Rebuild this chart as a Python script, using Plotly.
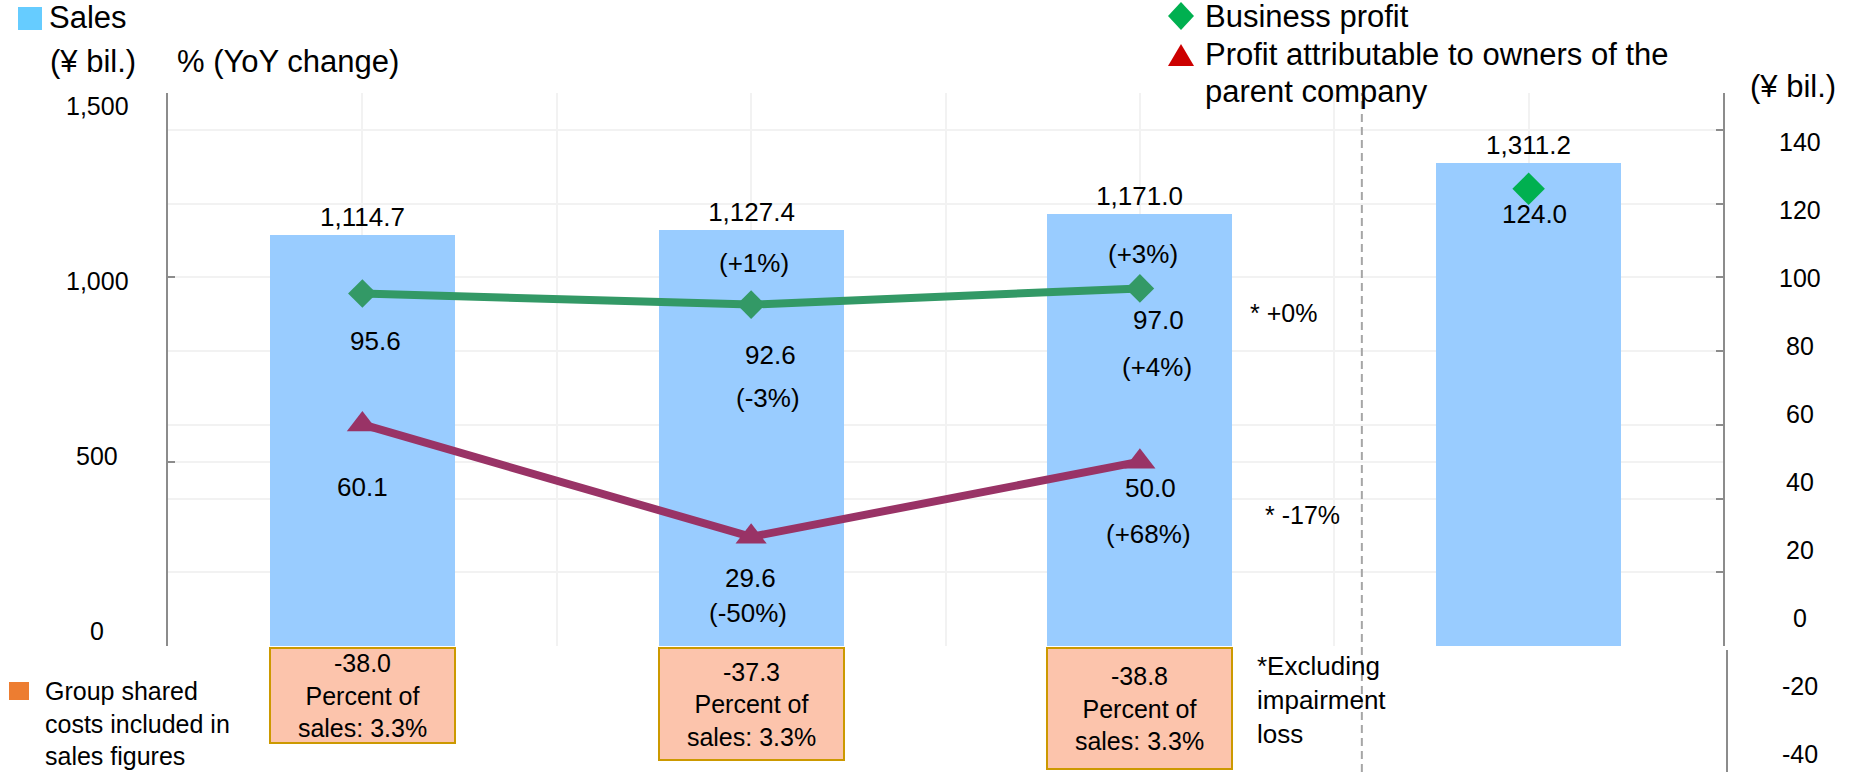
import plotly.graph_objects as go

# ---------------- data ----------------
sales = [1114.7, 1127.4, 1171.0, 1311.2]
sales_yoy = [None, "+1%", "+3%", None]
business_profit = [95.6, 92.6, 97.0]
business_profit_yoy = [None, "-3%", "+4%"]
business_profit_plan = 124.0
owners_profit = [60.1, 29.6, 50.0]
owners_profit_yoy = [None, "-50%", "+68%"]
excl_impairment_yoy = ["+0%", "-17%"]
group_costs = [-38.0, -37.3, -38.8]
group_costs_pct = [3.3, 3.3, 3.3]
left_ticks = [0, 500, 1000, 1500]
right_grid_ticks = [0, 20, 40, 60, 80, 100, 120, 140]
right_labels = [-40, -20, 0, 20, 40, 60, 80, 100, 120, 140]

# ---------------- layout geometry ----------------
W, H = 1856, 772
L, R, T, B = 168, 133, 93, 0
PW, PH = W - L - R, H - T - B
FONT = "Liberation Sans, Arial, sans-serif"
BLACK = "#000000"
AXIS = "#8C8C8C"
GRID = "#F2F2F2"


def pxx(x):
    return (x - L) / PW


def pxy(y):
    return (H - B - y) / PH


y_bottom = pxy(646)
pos = list(range(len(sales)))

fig = go.Figure()

# Sales bars
fig.add_trace(go.Bar(
    x=pos, y=sales, width=0.476, marker=dict(color="#99CCFF", line=dict(width=0)),
    text=[f"{v:,.1f}" for v in sales], texttemplate="%{text}", textposition="outside",
    textfont=dict(size=26, color=BLACK, family=FONT), cliponaxis=False,
    showlegend=False, hoverinfo="skip"))

n = len(business_profit)
fig.add_trace(go.Scatter(
    x=pos[:n], y=business_profit, yaxis="y2", mode="lines+markers",
    line=dict(color="#339966", width=8),
    marker=dict(symbol="diamond", size=22, color="#339966"),
    showlegend=False, hoverinfo="skip"))
fig.add_trace(go.Scatter(
    x=pos[:n], y=owners_profit, yaxis="y2", mode="lines+markers",
    line=dict(color="#993366", width=8),
    marker=dict(symbol="triangle-up", size=27, color="#993366"),
    showlegend=False, hoverinfo="skip"))
fig.add_trace(go.Scatter(
    x=[pos[-1]], y=[business_profit_plan], yaxis="y2", mode="markers",
    marker=dict(symbol="diamond", size=25, color="#00B050"),
    showlegend=False, hoverinfo="skip"))

ann = []


def txt(text, x, y, xref="paper", yref="paper", size=26, xanchor="center",
        yanchor="middle", xshift=0, yshift=0, align="center", color=BLACK, family=FONT):
    ann.append(dict(text=text, x=x, y=y, xref=xref, yref=yref, showarrow=False,
                    font=dict(size=size, color=color, family=family),
                    xanchor=xanchor, yanchor=yanchor, xshift=xshift, yshift=yshift,
                    align=align))


# sales YoY inside bars
sales_yoy_shift = [0, -33, -40, 0]
for i, s in enumerate(sales_yoy):
    if s:
        txt(f"({s})", pos[i], sales[i], xref="x", yref="y", yshift=sales_yoy_shift[i], xshift=3)

# business profit labels
bp_dy = [-47, -50, -32]
bp_dx = [13, 19, 19]
bp_yoy_dy = [0, -93, -79]
for i, v in enumerate(business_profit):
    txt(f"{v:.1f}", pos[i], v, xref="x", yref="y2", xshift=bp_dx[i], yshift=bp_dy[i])
    if business_profit_yoy[i]:
        txt(f"({business_profit_yoy[i]})", pos[i], v, xref="x", yref="y2",
            xshift=bp_dx[i] - 2, yshift=bp_yoy_dy[i])
txt(f"{business_profit_plan:.1f}", pos[-1], business_profit_plan, xref="x", yref="y2",
    xshift=6, yshift=-25)

# owners profit labels
op_dy = [-63, -41, -26]
op_dx = [0, -1, 11]
op_yoy_dy = [0, -76, -72]
for i, v in enumerate(owners_profit):
    txt(f"{v:.1f}", pos[i], v, xref="x", yref="y2", xshift=op_dx[i], yshift=op_dy[i])
    if owners_profit_yoy[i]:
        txt(f"({owners_profit_yoy[i]})", pos[i], v, xref="x", yref="y2",
            xshift=op_dx[i] - 2, yshift=op_yoy_dy[i])

# excluding impairment notes
txt(f"* {excl_impairment_yoy[0]}", pxx(1248), pxy(313), size=25, xanchor="left")
txt(f"* {excl_impairment_yoy[1]}", pxx(1263), pxy(515), size=25, xanchor="left")
txt("*Excluding<br>impairment<br>loss", pxx(1255), pxy(700), size=26, xanchor="left", align="left")

# group shared costs boxes
box_h = [93, 110, 119]
for i, (c, p) in enumerate(zip(group_costs, group_costs_pct)):
    ann.append(dict(text=f"{c:.1f}<br>Percent of<br>sales: {p:.1f}%", x=pos[i], xref="x",
                    y=pxy(647), yref="paper", yanchor="top", xanchor="center",
                    showarrow=False, width=183, height=box_h[i], borderpad=0,
                    bgcolor="#FCC4AC", bordercolor="#CC9900", borderwidth=2,
                    font=dict(size=25, color=BLACK, family=FONT), valign="middle"))

txt("Group shared<br>costs included in<br>sales figures", pxx(43), pxy(723), size=25,
    xanchor="left", align="left")

# titles / legends
txt("Sales", pxx(47), pxy(18), size=31, xanchor="left")
txt("(¥ bil.)", pxx(93), pxy(62), size=31)
txt("% (YoY change)", pxx(175), pxy(62), size=31, xanchor="left")
txt("(¥ bil.)", pxx(1793), pxy(86), size=31)
txt("Business profit", pxx(1203), pxy(17), size=31, xanchor="left")
txt("Profit attributable to owners of the", pxx(1203), pxy(55), size=31, xanchor="left")
txt("parent company", pxx(1203), pxy(91), size=31, xanchor="left")

# axis tick labels (placed on label axes)
for v in left_ticks:
    txt(f"{v:,}", pxx(97), v, yref="y4", size=25)
for v in right_labels:
    txt(f"{v}", pxx(1800), v, yref="y3", size=25)


def path(points):
    return "M " + " L ".join(f"{pxx(a)},{pxy(b)}" for a, b in points) + " Z"


shapes = [
    dict(type="rect", xref="paper", yref="paper", x0=pxx(18), x1=pxx(42), y0=pxy(30), y1=pxy(7),
         fillcolor="#66CCFF", line=dict(width=0)),
    dict(type="rect", xref="paper", yref="paper", x0=pxx(9), x1=pxx(29), y0=pxy(700), y1=pxy(682),
         fillcolor="#ED7D31", line=dict(width=0)),
    dict(type="path", xref="paper", yref="paper",
         path=path([(1181, 2), (1194, 16), (1181, 30), (1168, 16)]),
         fillcolor="#00B050", line=dict(width=0)),
    dict(type="path", xref="paper", yref="paper",
         path=path([(1181, 44), (1194, 66), (1168, 66)]),
         fillcolor="#CC0000", line=dict(width=0)),
    dict(type="line", xref="x", yref="paper", x0=2.571, x1=2.571, y0=0, y1=1,
         line=dict(color="#A6A6A6", width=2, dash="8px,5px")),
    dict(type="line", xref="paper", yref="paper", x0=pxx(1727), x1=pxx(1727), y0=0, y1=pxy(650),
         line=dict(color=AXIS, width=2)),
]

fig.update_layout(
    width=W, height=H, margin=dict(l=L, r=R, t=T, b=B, pad=0),
    paper_bgcolor="white", plot_bgcolor="rgba(0,0,0,0)",
    font=dict(family=FONT, color=BLACK),
    showlegend=False, bargap=0,
    xaxis=dict(range=[-0.5, 3.5], showticklabels=False, ticks="", showgrid=True,
               gridcolor=GRID, gridwidth=2, tick0=0, dtick=0.5, zeroline=False,
               showline=False, fixedrange=True),
    xaxis2=dict(overlaying="x", anchor="y3", range=[0, 1], visible=False, showgrid=False),
    yaxis=dict(domain=[y_bottom, 1], range=[0, 1500], tickvals=left_ticks, showticklabels=False,
               ticks="inside", ticklen=7, tickwidth=2, tickcolor=AXIS, showline=True,
               linecolor=AXIS, linewidth=2, showgrid=True, gridcolor=GRID, gridwidth=2,
               zeroline=False),
    yaxis2=dict(overlaying="y", side="right", anchor="x", range=[0, 150],
                tickvals=right_grid_ticks, showticklabels=False, ticks="inside", ticklen=7,
                tickwidth=2, tickcolor=AXIS, showline=True, linecolor=AXIS, linewidth=2,
                showgrid=True, gridcolor=GRID, gridwidth=2, zeroline=False),
    yaxis3=dict(domain=[0, 1], anchor="x2", range=[-45.3, 154.4], visible=False, showgrid=False),
    yaxis4=dict(domain=[0, 1], anchor="x2", range=[-402.9, 1536.0], visible=False, showgrid=False),
    annotations=ann, shapes=shapes,
)

fig.write_html("out.html")
